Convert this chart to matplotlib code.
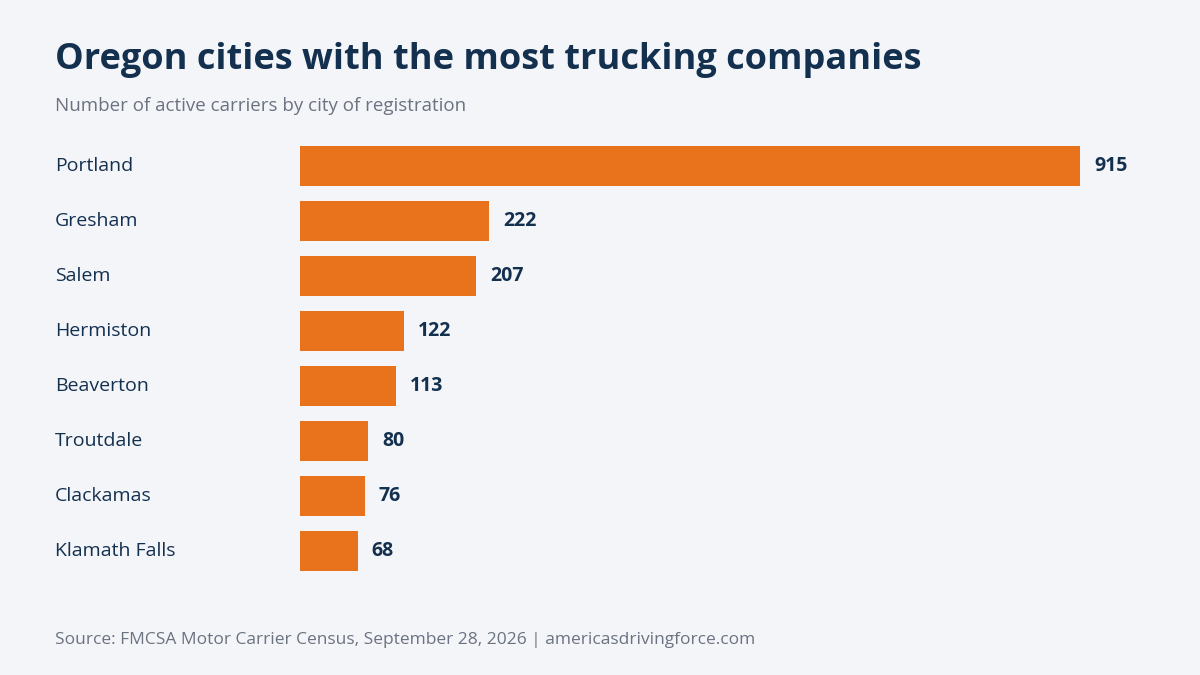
import matplotlib.pyplot as plt
from matplotlib.transforms import blended_transform_factory

cities = ["Portland", "Gresham", "Salem", "Hermiston", "Beaverton",
          "Troutdale", "Clackamas", "Klamath Falls"]
carriers = [915, 222, 207, 122, 113, 80, 76, 68]

bg = "#f4f5f9"
navy = "#14304f"
orange = "#e8731c"

plt.rcParams['font.family'] = ['Open Sans', 'DejaVu Sans']

fig = plt.figure(figsize=(12, 6.75), dpi=100, facecolor=bg)
ax = fig.add_axes([0.25, 0.143, 0.65, 0.652])
ax.set_facecolor(bg)

ypos = list(range(len(cities)))
ax.barh(ypos, carriers, height=0.727, color=orange)
ax.set_xlim(0, 915)
ax.set_ylim(len(cities) - 0.5, -0.5)
ax.axis('off')

trans = blended_transform_factory(fig.transFigure, ax.transData)
for y, name, v in zip(ypos, cities, carriers):
    ax.annotate(str(v), (v, y), xytext=(10, 0), textcoords='offset points',
                va='center', ha='left', fontsize=14, fontweight='bold', color=navy)
    ax.text(55 / 1200, y, name, transform=trans, fontsize=14, color=navy,
            va='center', ha='left')

fig.text(55 / 1200, 1 - 60 / 675, "Oregon cities with the most trucking companies",
         fontsize=26, fontweight='bold', color=navy, va='center', ha='left')
fig.text(55 / 1200, 1 - 106 / 675, "Number of active carriers by city of registration",
         fontsize=13.5, color="#6b7280", va='center', ha='left')
fig.text(55 / 1200, 1 - 640 / 675,
         "Source: FMCSA Motor Carrier Census, September 28, 2026 | americasdrivingforce.com",
         fontsize=12.5, color="#6b7280", va='center', ha='left')

fig.savefig("out.png", dpi=100, facecolor=bg)
